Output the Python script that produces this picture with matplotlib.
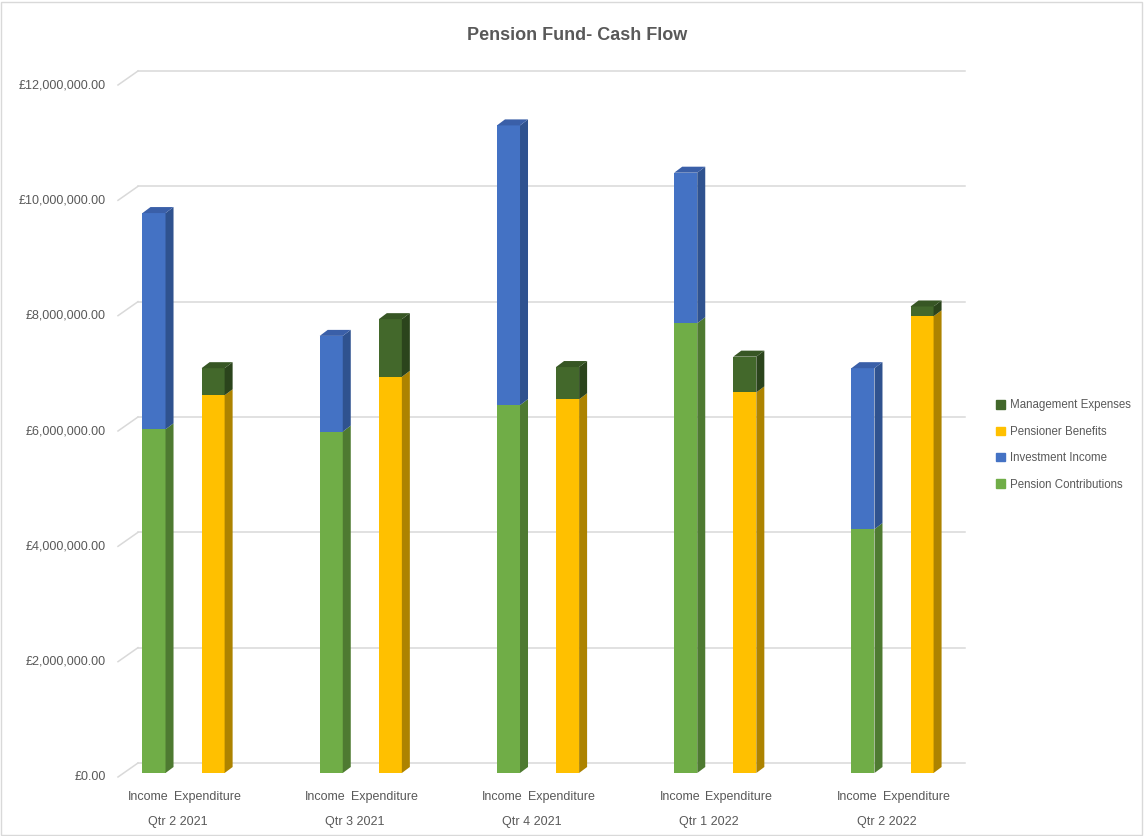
import numpy as np
import matplotlib
matplotlib.use("Agg")
import matplotlib.pyplot as plt
from matplotlib.patches import Polygon, Rectangle
from matplotlib.lines import Line2D
import matplotlib.transforms as mtransforms

plt.rcParams['font.family'] = ['Liberation Sans', 'DejaVu Sans']

# data
quarters = ['Qtr 2 2021', 'Qtr 3 2021', 'Qtr 4 2021', 'Qtr 1 2022', 'Qtr 2 2022']
contributions = [5960000, 5920000, 6380000, 7800000, 4230000]
investment = [3750000, 1660000, 4850000, 2610000, 2790000]
benefits = [6550000, 6870000, 6480000, 6600000, 7920000]
mgmt = [470000, 1000000, 560000, 620000, 170000]
yticks = [0, 2000000, 4000000, 6000000, 8000000, 10000000, 12000000]

# colours: front, side, top
c_green = ('#70AD47', '#4E7A31', '#5E9139')
c_blue = ('#4472C4', '#2F528F', '#3A5FA8')
c_yellow = ('#FFC000', '#AD8300', '#D9A300')
c_dark = ('#43682B', '#2B441C', '#375624')
grey_txt = '#595959'

W, H = 1144, 836
fig = plt.figure(figsize=(W / 100, H / 100), dpi=100)

# axes = plane of the bar fronts (pixels)
ax_l, ax_r = 124, 951
ax_b, ax_t = 773, 81
ax = fig.add_axes([ax_l / W, (H - ax_b) / H, (ax_r - ax_l) / W, (ax_b - ax_t) / H])
xmin, xmax = -0.336, 4.330
ax.set_xlim(xmin, xmax)
ax.set_ylim(0, 12000000)
ax.axis('off')

px_x = (xmax - xmin) / (ax_r - ax_l)
px_y = 12000000 / (ax_b - ax_t)


def off(dx, dy):
    return ax.transData + mtransforms.ScaledTranslation(dx / 100, dy / 100, fig.dpi_scale_trans)


# walls / gridlines: back wall offset (+14, +10), front (-6, -4)
for v in yticks:
    ax.add_line(Line2D([xmin, xmax], [v, v], transform=off(14, 10), color='#D9D9D9', lw=1.1, clip_on=False, zorder=0))
    ax.add_line(Line2D([xmin - 20 * px_x, xmin], [v - 14 * px_y, v], transform=off(14, 10), color='#D9D9D9', lw=1.1, clip_on=False, zorder=0))
    ax.text(xmin, v, '£{:,.2f}'.format(v), transform=off(-18, -4), ha='right', va='center',
            fontsize=9, color=grey_txt)

depth_x, depth_y = 8 * px_x, 6 * px_y
width = 0.13
gap = 0.1667


def bar3d(xc, bottom, height, cols, top=False):
    x0, x1 = xc - width / 2, xc + width / 2
    ax.add_patch(Rectangle((x0, bottom), width, height, facecolor=cols[0], edgecolor='none', zorder=3))
    side = [(x1, bottom), (x1 + depth_x, bottom + depth_y), (x1 + depth_x, bottom + height + depth_y), (x1, bottom + height)]
    ax.add_patch(Polygon(side, closed=True, facecolor=cols[1], edgecolor='none', zorder=3))
    if top:
        tp = [(x0, bottom + height), (x1, bottom + height), (x1 + depth_x, bottom + height + depth_y), (x0 + depth_x, bottom + height + depth_y)]
        ax.add_patch(Polygon(tp, closed=True, facecolor=cols[2], edgecolor='none', zorder=3))


x = np.arange(len(quarters))
for i in x:
    bar3d(i - gap, 0, contributions[i], c_green)
    bar3d(i - gap, contributions[i], investment[i], c_blue, top=True)
    bar3d(i + gap, 0, benefits[i], c_yellow)
    bar3d(i + gap, benefits[i], mgmt[i], c_dark, top=True)
    ax.text(i - gap, 0, 'Income', transform=off(-6, -24), ha='center', va='center', fontsize=9, color=grey_txt)
    ax.text(i + gap, 0, 'Expenditure', transform=off(-6, -24), ha='center', va='center', fontsize=9, color=grey_txt)
    ax.text(i, 0, quarters[i], transform=off(-6, -49), ha='center', va='center', fontsize=9, color=grey_txt)

# title
fig.text(577 / W, 1 - 35 / H, 'Pension Fund- Cash Flow', ha='center', va='center',
         fontsize=13, fontweight='bold', color=grey_txt)

# legend
handles = [Rectangle((0, 0), 1, 1, color=c_dark[0]), Rectangle((0, 0), 1, 1, color=c_yellow[0]),
           Rectangle((0, 0), 1, 1, color=c_blue[0]), Rectangle((0, 0), 1, 1, color=c_green[0])]
labels = ['Management Expenses', 'Pensioner Benefits', 'Investment Income', 'Pension Contributions']
fig.legend(handles, labels, loc='center left', bbox_to_anchor=(986 / W, 1 - 445 / H), frameon=False,
           fontsize=8.3, labelcolor=grey_txt, handlelength=0.75, handleheight=0.75, handletextpad=0.4,
           labelspacing=1.25)

# chart border
fig.patches.append(Rectangle((1 / W, 1 / H), 1 - 3 / W, 1 - 3 / H, transform=fig.transFigure,
                             fill=False, edgecolor='#D9D9D9', lw=1))

fig.savefig('out.png', dpi=100)
